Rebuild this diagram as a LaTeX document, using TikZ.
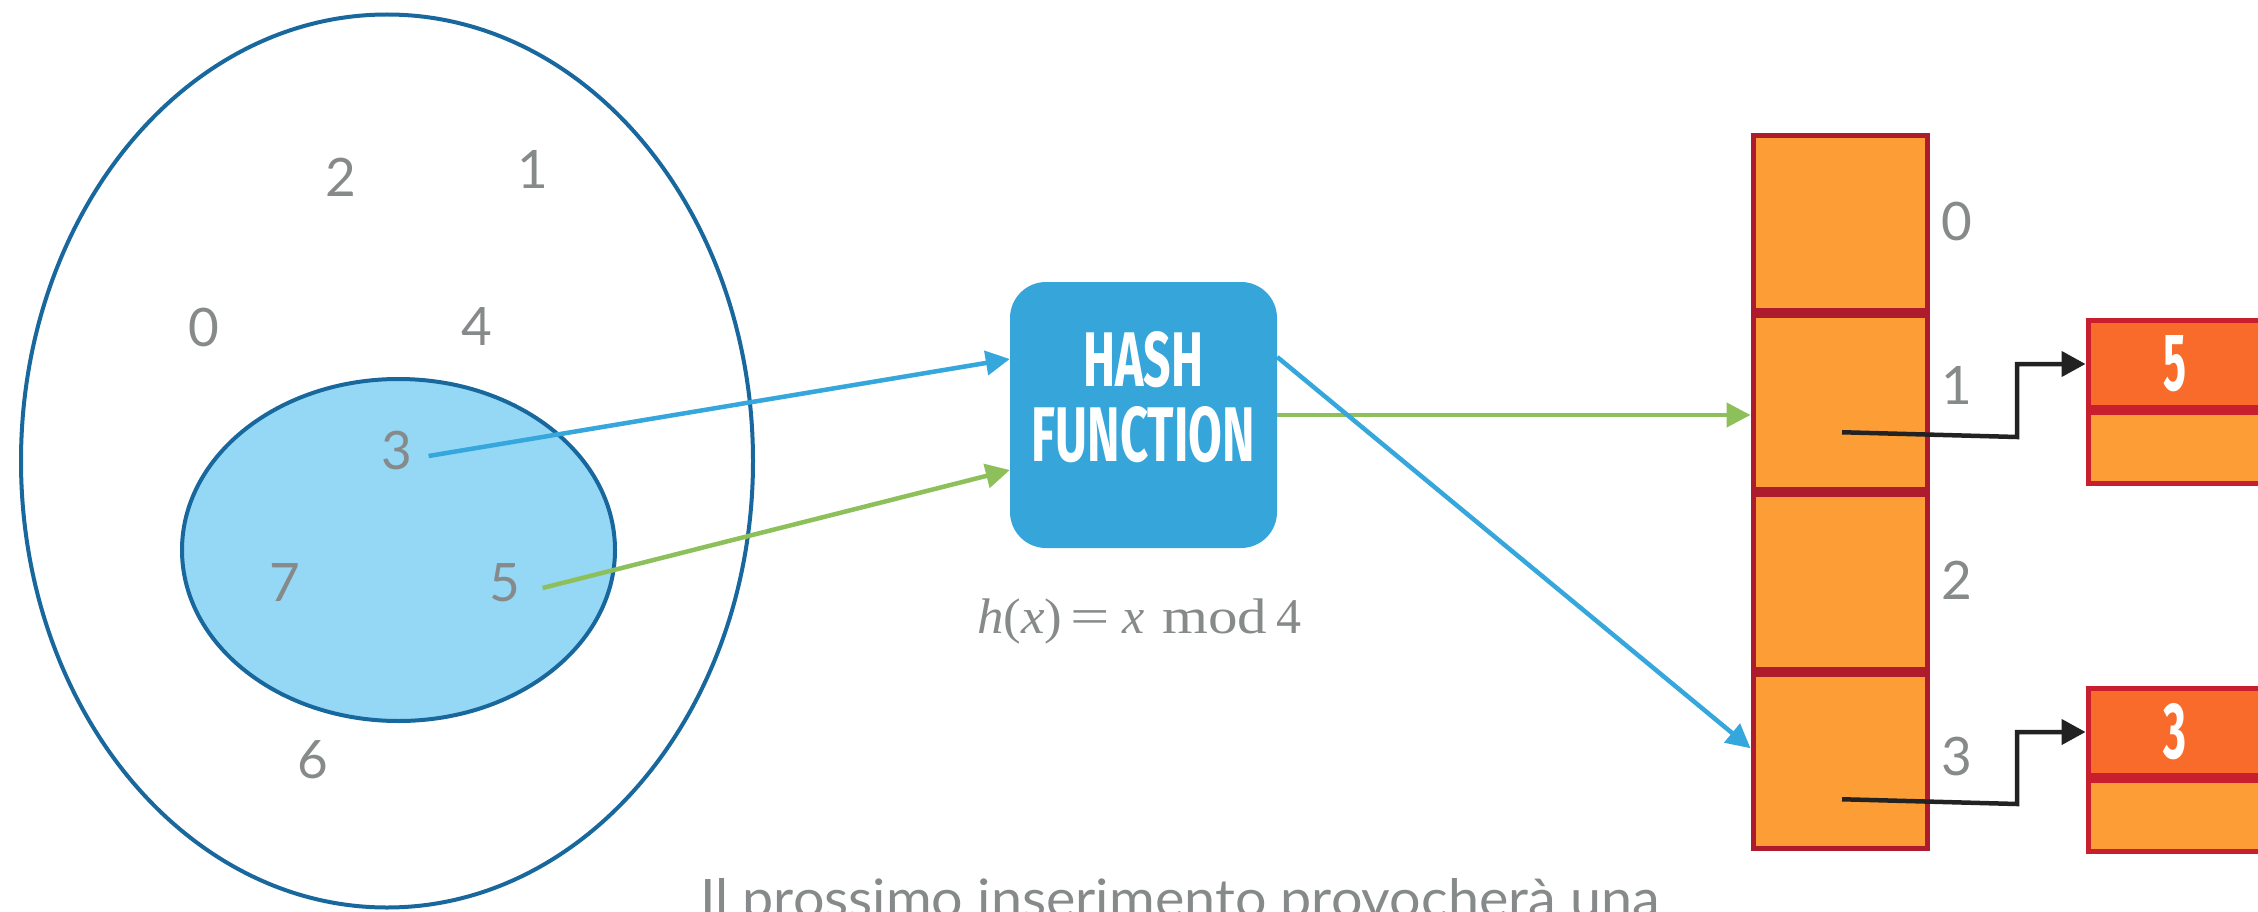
\documentclass[tikz,border=0pt]{standalone}
\usepackage{fontspec}
\setmainfont{Lato}
\newfontfamily\condfont{Fira Sans}
\newfontfamily\timesfont{Liberation Serif}
\usetikzlibrary{shapes.geometric,arrows.meta,calc}
\definecolor{darkblue}{RGB}{24,104,158}
\definecolor{lightblue}{RGB}{149,216,245}
\definecolor{arrowblue}{RGB}{53,167,220}
\definecolor{hashblue}{RGB}{53,165,218}
\definecolor{arrowgreen}{RGB}{141,192,90}
\definecolor{cellorange}{RGB}{253,157,53}
\definecolor{cellborder}{RGB}{174,27,45}
\definecolor{listorange}{RGB}{248,107,42}
\definecolor{listborder}{RGB}{200,30,46}
\definecolor{txtgray}{RGB}{135,138,138}
\definecolor{ptrblack}{RGB}{34,34,34}
\begin{document}
\begin{tikzpicture}[x=1pt,y=-1pt,
  num/.style={text=txtgray,font=\fontsize{53}{60}\selectfont,inner sep=0pt},
  setshape/.style={ellipse,draw=darkblue,line width=4pt,inner sep=0pt},
  cell/.style={rectangle,draw=cellborder,fill=cellorange,line width=5pt,minimum width=174pt,minimum height=174.5pt,inner sep=0pt},
  listtop/.style={rectangle,draw=listborder,fill=listorange,line width=5pt,minimum width=174pt,minimum height=87pt,inner sep=0pt,text=white},
  listbot/.style={rectangle,draw=listborder,fill=cellorange,line width=5pt,minimum width=174pt,minimum height=71pt,inner sep=0pt},
  bluearrow/.style={draw=arrowblue,line width=4.5pt,-{Triangle[length=24pt,width=24pt]}},
  greenarrow/.style={draw=arrowgreen,line width=4.5pt,-{Triangle[length=24pt,width=24pt]}},
  ptr/.style={draw=ptrblack,line width=4.5pt,-{Triangle[length=24pt,width=25pt]}},
  hashbox/.style={rectangle,fill=hashblue,rounded corners=36pt,minimum width=267pt,minimum height=266pt,inner sep=0pt},
  condtext/.style={text=white,inner sep=0pt,font=\condfont\bfseries}
]
\fill[white] (0,0) rectangle (2258,912);
\useasboundingbox (0,0) rectangle (2258,912);

% sets
\node[setshape,minimum width=732pt,minimum height=893pt] (outer) at (387,461) {};
\node[setshape,fill=lightblue,minimum width=433pt,minimum height=342pt] (inner) at (398.5,550) {};

% numbers
\node[num] (n2) at (341,177) {2};
\node[num] (n1) at (533,169) {1};
\node[num] (n0) at (204,327) {0};
\node[num] (n4) at (477,327) {4};
\node[num] (n3) at (397,451) {3};
\node[num] (n7) at (285,583) {7};
\node[num] (n5) at (505,583) {5};
\node[num] (n6) at (313,760) {6};

% hash function
\node[hashbox] (hash) at (1143.5,415) {};
\node[condtext,align=center,font=\condfont\bfseries\fontsize{10}{75}\selectfont] (hashlabel) at (1143.5,397)
  {\resizebox{120pt}{55pt}{HASH}\\\resizebox{223pt}{55pt}{FUNCTION}};
\node[text=txtgray,inner sep=0pt,anchor=base west,font=\timesfont\fontsize{50}{55}\selectfont] (formula) at (977,633)
  {\scalebox{1.06}[1]{\textit{h}(\textit{x})}\hspace{8pt}\scalebox{1.4}[1]{=}\hspace{12pt}\textit{x}\hspace{18pt}\scalebox{1.18}[1]{mod}\hspace{9pt}4};

% table
\node[cell] (c0) at (1840,222.75) {};
\node[cell] (c1) at (1840,402.25) {};
\node[cell] (c2) at (1840,581.75) {};
\node[cell] (c3) at (1840,761.25) {};
\node[num] (i0) at (1957,221) {0};
\node[num] (i1) at (1957,385) {1};
\node[num] (i2) at (1957,580) {2};
\node[num] (i3) at (1957,757) {3};

% lists
\node[listtop] (l5top) at (2175,364) {\resizebox{23pt}{55pt}{\condfont\bfseries 5}};
\node[listbot] (l5bot) at (2175,448) {};
\node[listtop] (l3top) at (2175,732) {\resizebox{23pt}{55pt}{\condfont\bfseries 3}};
\node[listbot] (l3bot) at (2175,816) {};

% connectors
\coordinate (s3) at ($(n3.east)+(16,5)$);
\coordinate (s5) at ($(n5.east)+(22,5)$);
\draw[bluearrow] (s3) -- ($(hash.west)+(0,-56)$);
\draw[greenarrow] (s5) -- ($(hash.west)+(0,55)$);
\draw[greenarrow] (hash.east) -- (c1.west |- hash.east);
\draw[bluearrow] ($(hash.east)+(0,-58)$) -- ($(c3.west)+(0,-13)$);

\coordinate (p1s) at ($(c1.center)+(2,30)$);
\coordinate (p1c) at (2017,437);
\draw[ptr] (p1s) -- (p1c) -- (p1c |- l5top.west) -- (l5top.west);
\coordinate (p3s) at ($(c3.center)+(2,38)$);
\coordinate (p3c) at (2017,804);
\draw[ptr] (p3s) -- (p3c) -- (p3c |- l3top.west) -- (l3top.west);

% caption (cut by the frame, as in the reference)
\node[text=txtgray,inner sep=0pt,anchor=base west,font=\fontsize{53}{60}\selectfont] (caption) at (700,917)
  {\scalebox{1.05}[1]{Il prossimo inserimento provocherà una}};
\end{tikzpicture}
\end{document}
